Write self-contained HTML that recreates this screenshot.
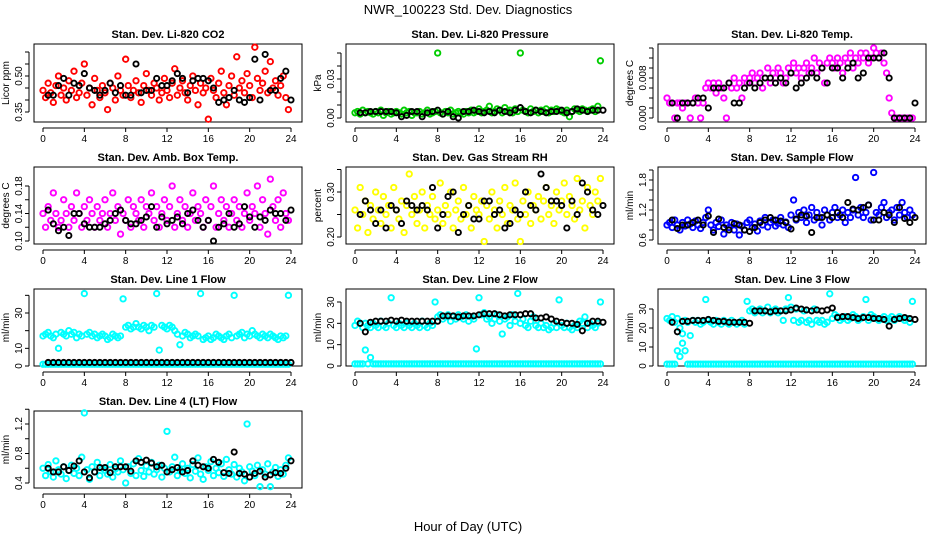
<!DOCTYPE html>
<html><head><meta charset="utf-8"><style>
body{margin:0;background:#fff;}
svg{display:block;font-family:"Liberation Sans",sans-serif;}
</style></head><body>
<svg id="chart" width="936" height="540" viewBox="0 0 936 540" xmlns="http://www.w3.org/2000/svg">
<rect x="0" y="0" width="936" height="540" fill="#fff"/>
<text x="468" y="14" text-anchor="middle" font-size="13">NWR_100223  Std. Dev. Diagnostics</text>
<text x="468" y="531" text-anchor="middle" font-size="13">Hour of Day (UTC)</text>
</svg>
<script>
const hourTicks=[0,4,8,12,16,20,24];
const co2=[0.44,0.41,0.47,0.43,0.39,0.46,0.50,0.42,0.45,0.40,0.48,0.44,0.52,0.41,0.43,0.47,0.55,0.42,0.45,0.38,0.49,0.44,0.41,0.46,0.43,0.36,0.47,0.45,0.40,0.50,0.44,0.42,0.57,0.46,0.41,0.44,0.48,0.43,0.39,0.46,0.51,0.44,0.42,0.47,0.45,0.40,0.43,0.49,0.44,0.41,0.47,0.53,0.42,0.45,0.48,0.43,0.40,0.46,0.50,0.44,0.38,0.47,0.43,0.45,0.32,0.49,0.44,0.41,0.47,0.52,0.43,0.38,0.46,0.50,0.42,0.58,0.45,0.48,0.43,0.51,0.46,0.41,0.62,0.49,0.44,0.47,0.52,0.43,0.56,0.45,0.48,0.42,0.46,0.50,0.41,0.36];
const co2Black=[0.42,0.42,0.46,0.49,0.42,0.47,0.46,0.51,0.45,0.44,0.42,0.44,0.47,0.43,0.46,0.42,0.42,0.55,0.43,0.44,0.44,0.49,0.46,0.46,0.48,0.51,0.49,0.43,0.48,0.49,0.49,0.48,0.45,0.39,0.40,0.41,0.44,0.40,0.39,0.41,0.57,0.40,0.59,0.44,0.44,0.49,0.52,0.40];
const pres=[0.004,0.005,0.003,0.006,0.004,0.005,0.004,0.003,0.005,0.004,0.006,0.002,0.004,0.005,0.003,0.004,0.005,0.004,0.003,0.006,0.004,0.005,0.002,0.004,0.004,0.005,0.003,0.004,0.006,0.003,0.004,0.005,0.050,0.004,0.003,0.005,0.004,0.006,0.003,0.004,0.005,0.004,0.003,0.005,0.004,0.006,0.004,0.005,0.007,0.004,0.005,0.006,0.009,0.004,0.005,0.007,0.006,0.004,0.008,0.005,0.006,0.004,0.007,0.005,0.050,0.006,0.005,0.004,0.007,0.005,0.006,0.004,0.006,0.005,0.007,0.004,0.006,0.005,0.007,0.006,0.005,0.004,0.006,0.001,0.005,0.007,0.006,0.005,0.007,0.006,0.005,0.006,0.007,0.005,0.009,0.044];
const presBlack=[0.004,0.004,0.005,0.005,0.005,0.005,0.005,0.004,0.001,0.002,0.005,0.005,0.001,0.004,0.005,0.006,0.003,0.005,0.001,0.000,0.005,0.005,0.006,0.005,0.004,0.005,0.004,0.006,0.005,0.004,0.006,0.008,0.005,0.004,0.006,0.005,0.004,0.005,0.005,0.006,0.004,0.005,0.007,0.006,0.005,0.006,0.006,0.006];
const temp=[0.004,0.003,0.003,0.000,0.003,0.003,0.002,0.003,0.003,0.000,0.003,0.004,0.003,0.000,0.003,0.006,0.007,0.006,0.007,0.005,0.007,0.006,0.004,0.000,0.007,0.006,0.008,0.006,0.007,0.004,0.008,0.007,0.008,0.009,0.007,0.008,0.009,0.006,0.008,0.010,0.007,0.009,0.008,0.010,0.009,0.007,0.008,0.010,0.009,0.011,0.009,0.010,0.008,0.010,0.011,0.009,0.010,0.012,0.009,0.011,0.010,0.007,0.011,0.012,0.011,0.010,0.012,0.011,0.009,0.012,0.011,0.013,0.010,0.012,0.011,0.013,0.012,0.013,0.011,0.012,0.014,0.013,0.012,0.013,0.011,0.009,0.004,0.001,0.000,0.000,0.000,0.000,0.000,0.000,0.000,0.000];
const tempBlack=[0.003,0.000,0.003,0.003,0.003,0.004,0.004,0.002,0.006,0.006,0.006,0.007,0.003,0.003,0.006,0.007,0.006,0.007,0.008,0.008,0.007,0.008,0.007,0.009,0.006,0.007,0.008,0.009,0.008,0.010,0.007,0.010,0.010,0.008,0.010,0.011,0.008,0.009,0.012,0.012,0.012,0.013,0.008,0.000,0.000,0.000,0.000,0.003];
const boxT=[0.14,0.12,0.15,0.13,0.17,0.14,0.12,0.13,0.16,0.14,0.12,0.15,0.13,0.17,0.14,0.12,0.15,0.13,0.16,0.14,0.12,0.15,0.13,0.14,0.16,0.12,0.14,0.17,0.13,0.15,0.11,0.14,0.13,0.16,0.12,0.15,0.14,0.13,0.16,0.12,0.15,0.14,0.17,0.13,0.15,0.12,0.14,0.16,0.13,0.15,0.18,0.12,0.14,0.16,0.13,0.15,0.12,0.14,0.17,0.13,0.15,0.14,0.12,0.16,0.13,0.15,0.18,0.12,0.14,0.16,0.13,0.15,0.12,0.14,0.16,0.13,0.15,0.12,0.14,0.17,0.13,0.15,0.14,0.18,0.12,0.16,0.14,0.11,0.19,0.15,0.13,0.16,0.12,0.17,0.14,0.13];
const boxTBlack=[0.145,0.125,0.115,0.12,0.108,0.14,0.14,0.125,0.12,0.12,0.12,0.125,0.13,0.14,0.145,0.13,0.125,0.125,0.13,0.135,0.15,0.12,0.135,0.125,0.13,0.135,0.125,0.14,0.145,0.13,0.12,0.13,0.10,0.12,0.125,0.14,0.12,0.125,0.15,0.135,0.12,0.135,0.13,0.145,0.14,0.14,0.13,0.145];
const rh=[0.26,0.22,0.31,0.25,0.28,0.21,0.27,0.24,0.30,0.26,0.23,0.29,0.25,0.27,0.22,0.31,0.26,0.24,0.28,0.21,0.27,0.34,0.25,0.29,0.23,0.26,0.30,0.22,0.27,0.25,0.29,0.24,0.26,0.32,0.23,0.27,0.25,0.30,0.22,0.26,0.28,0.24,0.31,0.25,0.27,0.22,0.29,0.26,0.25,0.28,0.19,0.27,0.24,0.30,0.26,0.22,0.28,0.25,0.31,0.23,0.27,0.26,0.32,0.24,0.19,0.28,0.25,0.30,0.23,0.27,0.26,0.29,0.24,0.28,0.31,0.25,0.27,0.23,0.30,0.26,0.28,0.32,0.25,0.29,0.27,0.24,0.33,0.26,0.28,0.22,0.31,0.27,0.25,0.30,0.28,0.33];
const rhBlack=[0.25,0.28,0.26,0.23,0.26,0.22,0.27,0.26,0.23,0.28,0.27,0.26,0.27,0.26,0.31,0.22,0.25,0.29,0.30,0.21,0.25,0.27,0.24,0.24,0.28,0.28,0.25,0.26,0.22,0.23,0.26,0.25,0.30,0.27,0.26,0.34,0.31,0.28,0.28,0.27,0.22,0.28,0.25,0.32,0.30,0.26,0.25,0.27];
const sflow=[0.9,0.95,0.85,1.0,0.9,0.8,0.95,0.88,1.0,0.92,0.85,0.98,0.9,0.83,0.95,1.05,1.2,0.9,0.8,0.95,0.87,1.0,0.72,0.9,0.85,0.95,0.8,0.92,0.7,0.88,0.8,0.95,1.0,0.85,0.92,0.78,0.98,0.9,1.05,0.86,0.95,1.0,0.88,0.93,1.05,0.9,0.96,0.85,1.1,1.4,1.0,1.15,1.05,1.2,0.95,1.1,1.25,1.0,1.15,1.05,0.9,1.2,1.1,1.0,1.15,1.25,1.05,1.1,1.2,0.95,1.15,1.05,1.2,1.85,1.1,1.25,1.05,1.15,1.3,1.0,1.95,1.15,1.1,1.25,1.35,1.05,1.15,1.2,1.0,1.25,1.1,1.35,1.15,1.05,1.2,1.1];
const sflowBlack=[1.0,0.83,0.9,0.9,0.95,1.0,0.9,1.08,0.75,1.02,0.85,0.80,0.93,0.9,0.8,0.77,0.85,0.95,1.0,1.05,1.0,0.98,0.95,0.82,1.02,1.1,1.08,0.75,1.05,1.05,1.1,1.05,1.15,1.05,1.35,1.22,1.2,1.25,1.3,1.0,1.0,1.15,1.1,0.95,1.25,1.03,0.95,1.05];
const line1=[17,18,19,17,16,18,10,19,18,17,20,18,19,16,18,17,41,18,19,17,18,16,17,18,17,15,16,18,17,16,17,38,22,23,21,22,24,22,21,23,22,20,23,22,41,9,23,22,21,23,22,20,18,12,17,19,18,16,17,18,17,41,15,16,17,15,16,18,17,16,15,17,18,16,40,17,18,19,16,18,17,20,18,17,16,18,17,16,18,17,16,15,17,16,17,40];
const line1Low=[1,1,1,1,1,1,1,1,1,1,1,1,1,1,1,1,1,1,1,1,1,1,1,1,1,1,1,1,1,1,1,1,1,1,1,1,1,1,1,1,1,1,1,1,1,1,1,1,1,1,1,1,1,1,1,1,1,1,1,1,1,1,1,1,1,1,1,1,1,1,1,1,1,1,1,1,1,1,1,1,1,1,1,1,1,1,1,1,1,1,1,1,1,1,1,1];
const line1Black=[2,2,2,2,2,2,2,2,2,2,2,2,2,2,2,2,2,2,2,2,2,2,2,2,2,2,2,2,2,2,2,2,2,2,2,2,2,2,2,2,2,2,2,2,2,2,2,2];
const line2=[19,21,20,18,20,19,18,20,19,18,21,19,18,20,32,19,18,20,19,18,20,19,18,20,19,18,21,19,18,20,19,30,23,24,22,23,24,21,23,22,24,23,22,24,21,23,22,8,32,24,25,22,23,20,22,24,21,15,22,23,19,24,21,34,20,22,19,18,21,23,19,18,20,18,19,17,18,20,18,31,19,18,20,18,17,19,18,21,20,23,18,20,19,18,20,30];
const line2Low=[1,1,1,1,7.5,1,4,1,1,1,1,1,1,1,1,1,1,1,1,1,1,1,1,1,1,1,1,1,1,1,1,1,1,1,1,1,1,1,1,1,1,1,1,1,1,1,1,1,1,1,1,1,1,1,1,1,1,1,1,1,1,1,1,1,1,1,1,1,1,1,1,1,1,1,1,1,1,1,1,1,1,1,1,1,1,1,1,1,1,1,1,1,1,1,1,1];
const line2Black=[20,16,20.5,21,21,21,21.5,21,21.5,21,21,21,21,21,21,21,23.5,23.5,23.5,23,23.5,23.5,23.5,24,24.5,24.5,24.5,24,23.5,24,24,24,24.5,24.5,22.5,22.5,23,22,21,20.5,20,20,19.5,16.5,20,21,21,20.5];
const line3=[25,24,26,23,25,20,17,24,23,16,24,23,24,22,23,35,24,23,22,24,23,22,24,23,22,24,23,22,23,24,22,34,29,30,28,29,30,28,29,31,28,29,30,28,29,24,30,36,31,24,30,23,24,29,23,24,22,30,24,23,24,22,23,38,25,27,26,24,25,26,24,25,27,26,24,25,26,35,24,27,26,25,24,25,26,24,25,26,24,25,26,25,24,25,23,34];
const line3Low=[1,1,1,1,8,5,12,8,1,1,1,1,1,1,1,1,1,1,1,1,1,1,1,1,1,1,1,1,1,1,1,1,1,1,1,1,1,1,1,1,1,1,1,1,1,1,1,1,1,1,1,1,1,1,1,1,1,1,1,1,1,1,1,1,1,1,1,1,1,1,1,1,1,1,1,1,1,1,1,1,1,1,1,1,1,1,1,1,1,1,1,1,1,1,1,1];
const line3Black=[23,18,23.5,23.5,24,24,24,24.5,24,23.5,23.5,23,23,23,23,22.5,29,29,29,28.5,29,29,29,29.5,30.5,30,29.5,29,29.5,29,29.5,30.5,25.5,26,26,25.5,25,25.5,25.5,25,25,24.5,21,24.5,25,25.5,25,24.5];
const line4=[0.60,0.50,0.65,0.55,0.48,0.70,0.58,0.52,0.62,0.46,0.57,0.64,0.53,0.60,0.50,0.75,1.35,0.58,0.45,0.62,0.55,0.68,0.50,0.60,0.57,0.52,0.65,0.48,0.59,0.55,0.70,0.58,0.40,0.62,0.53,0.66,0.50,0.73,0.57,0.49,0.63,0.55,0.68,0.52,0.58,0.64,0.48,0.60,1.10,0.55,0.62,0.75,0.50,0.58,0.66,0.53,0.60,0.47,0.65,0.56,0.74,0.52,0.45,0.62,0.57,0.69,0.50,0.60,0.54,0.66,0.49,0.72,0.58,0.52,0.65,0.48,0.60,0.55,0.43,1.20,0.62,0.56,0.50,0.64,0.35,0.58,0.52,0.66,0.35,0.55,0.61,0.49,0.58,0.52,0.64,0.74];
const line4Black=[0.60,0.55,0.55,0.62,0.57,0.63,0.70,0.55,0.47,0.55,0.61,0.61,0.54,0.62,0.62,0.62,0.56,0.70,0.68,0.71,0.67,0.62,0.64,0.55,0.58,0.61,0.55,0.57,0.70,0.64,0.62,0.60,0.72,0.68,0.54,0.53,0.82,0.53,0.52,0.48,0.53,0.56,0.48,0.51,0.54,0.53,0.60,0.70];

const NS="http://www.w3.org/2000/svg";
const svg=document.getElementById('chart');
function mk(tag,attrs,parent){const e=document.createElementNS(NS,tag);for(const k in attrs)e.setAttribute(k,attrs[k]);(parent||svg).appendChild(e);return e;}
const panels=[
 {title:"Stan. Dev. Li-820 CO2",ylab:"Licor ppm",col:0,row:0,color:"#ff0000",main:co2,low:null,black:co2Black,v0:0.35,p0:112,v1:0.50,p1:76,ticks:[0.35,0.40,0.45,0.50,0.55,0.60],labels:["0.35","0.50"],lv:[0.35,0.50]},
 {title:"Stan. Dev. Li-820 Pressure",ylab:"kPa",col:1,row:0,color:"#00cd00",main:pres,low:null,black:presBlack,v0:0,p0:118,v1:0.03,p1:79,ticks:[0,0.01,0.02,0.03,0.04,0.05],labels:["0.00","0.03"],lv:[0,0.03]},
 {title:"Stan. Dev. Li-820 Temp.",ylab:"degrees C",col:2,row:0,color:"#ff00ff",main:temp,low:null,black:tempBlack,v0:0,p0:118,v1:0.008,p1:78,ticks:[0,0.002,0.004,0.006,0.008,0.010,0.012,0.014],labels:["0.000","0.008"],lv:[0,0.008]},
 {title:"Stan. Dev. Amb. Box Temp.",ylab:"degrees C",col:0,row:1,color:"#ff00ff",main:boxT,low:null,black:boxTBlack,v0:0.10,p0:241,v1:0.18,p1:186,ticks:[0.10,0.12,0.14,0.16,0.18],labels:["0.10","0.14","0.18"],lv:[0.10,0.14,0.18]},
 {title:"Stan. Dev. Gas Stream RH",ylab:"percent",col:1,row:1,color:"#ffff00",main:rh,low:null,black:rhBlack,v0:0.20,p0:237,v1:0.30,p1:192,ticks:[0.20,0.25,0.30,0.35],labels:["0.20","0.30"],lv:[0.20,0.30]},
 {title:"Stan. Dev. Sample Flow",ylab:"ml/min",col:2,row:1,color:"#0000ff",main:sflow,low:null,black:sflowBlack,v0:0.6,p0:240,v1:1.8,p1:180,ticks:[0.6,0.8,1.0,1.2,1.4,1.6,1.8,2.0],labels:["0.6","1.2","1.8"],lv:[0.6,1.2,1.8]},
 {title:"Stan. Dev. Line 1 Flow",ylab:"ml/min",col:0,row:2,color:"#00ffff",main:line1,low:line1Low,black:line1Black,v0:0,p0:366,v1:30,p1:313,ticks:[0,10,20,30,40],labels:["0","10","30"],lv:[0,10,30]},
 {title:"Stan. Dev. Line 2 Flow",ylab:"ml/min",col:1,row:2,color:"#00ffff",main:line2,low:line2Low,black:line2Black,v0:0,p0:366,v1:30,p1:302,ticks:[0,10,20,30],labels:["0","10","20","30"],lv:[0,10,20,30]},
 {title:"Stan. Dev. Line 3 Flow",ylab:"ml/min",col:2,row:2,color:"#00ffff",main:line3,low:line3Low,black:line3Black,v0:0,p0:366,v1:30,p1:309,ticks:[0,10,20,30],labels:["0","10","20","30"],lv:[0,10,20,30]},
 {title:"Stan. Dev. Line 4 (LT) Flow",ylab:"ml/min",col:0,row:3,color:"#00ffff",main:line4,low:null,black:line4Black,v0:0.4,p0:483,v1:1.2,p1:424,ticks:[0.4,0.6,0.8,1.0,1.2,1.4],labels:["0.4","0.8","1.2"],lv:[0.4,0.8,1.2]}
];
const rowTop=[44,167,289,411],rowBot=[122,244,366,488];
panels.forEach((p,pi)=>{
 const g=mk('g',{});
 
 
 const bx0=34+312*p.col,bx1=302+312*p.col,by0=rowTop[p.row],by1=rowBot[p.row];
 const xS=h=>43+312*p.col+h*(248/24);
 const yS=v=>p.p0+(v-p.v0)*(p.p1-p.p0)/(p.v1-p.v0);
 const box=mk('rect',{x:bx0,y:by0,width:bx1-bx0,height:by1-by0,fill:'none',stroke:'#000','stroke-width':1},g);
 
 
 const t=mk('text',{x:(bx0+bx1)/2,y:by0-6,'text-anchor':'middle','font-size':11,'font-weight':'bold'},g);t.textContent=p.title;
 
 
 const yl=mk('text',{x:0,y:0,'text-anchor':'middle','font-size':10,transform:`translate(${bx0-25},${(by0+by1)/2}) rotate(-90)`},g);yl.textContent=p.ylab;
 
 
 mk('line',{x1:xS(0),x2:xS(24),y1:by1+6,y2:by1+6,stroke:'#000'},g);
 hourTicks.forEach(h=>{
  mk('line',{x1:xS(h),x2:xS(h),y1:by1+6,y2:by1+10,stroke:'#000'},g);
  const tl=mk('text',{x:xS(h),y:by1+20,'text-anchor':'middle','font-size':10},g);tl.textContent=h;
  
  
 });
 const yt=p.ticks;
 mk('line',{x1:bx0-5,x2:bx0-5,y1:yS(yt[0]),y2:yS(yt[yt.length-1]),stroke:'#000'},g);
 yt.forEach(v=>mk('line',{x1:bx0-9,x2:bx0-5,y1:yS(v),y2:yS(v),stroke:'#000'},g));
 p.lv.forEach((v,i)=>{
  const tl=mk('text',{x:0,y:0,'text-anchor':'middle','font-size':10,transform:`translate(${bx0-12},${yS(v)}) rotate(-90)`},g);tl.textContent=p.labels[i];
  
  
 });
 const pts=mk('g',{fill:'none','stroke-width':1.9},g);
 
 
 p.main.forEach((v,i)=>{const c=mk('circle',{cx:xS(i*0.25),cy:yS(v),r:2.7,stroke:p.color},pts);
  
  });
 if(p.low){p.low.forEach((v,i)=>{const c=mk('circle',{cx:xS(i*0.25),cy:yS(v),r:2.7,stroke:p.color},pts);
  
  });}
 p.black.forEach((v,i)=>{const c=mk('circle',{cx:xS((i+1)*0.5),cy:yS(v),r:2.6,stroke:'#000'},pts);
  
  });
});
</script>
</body></html>
